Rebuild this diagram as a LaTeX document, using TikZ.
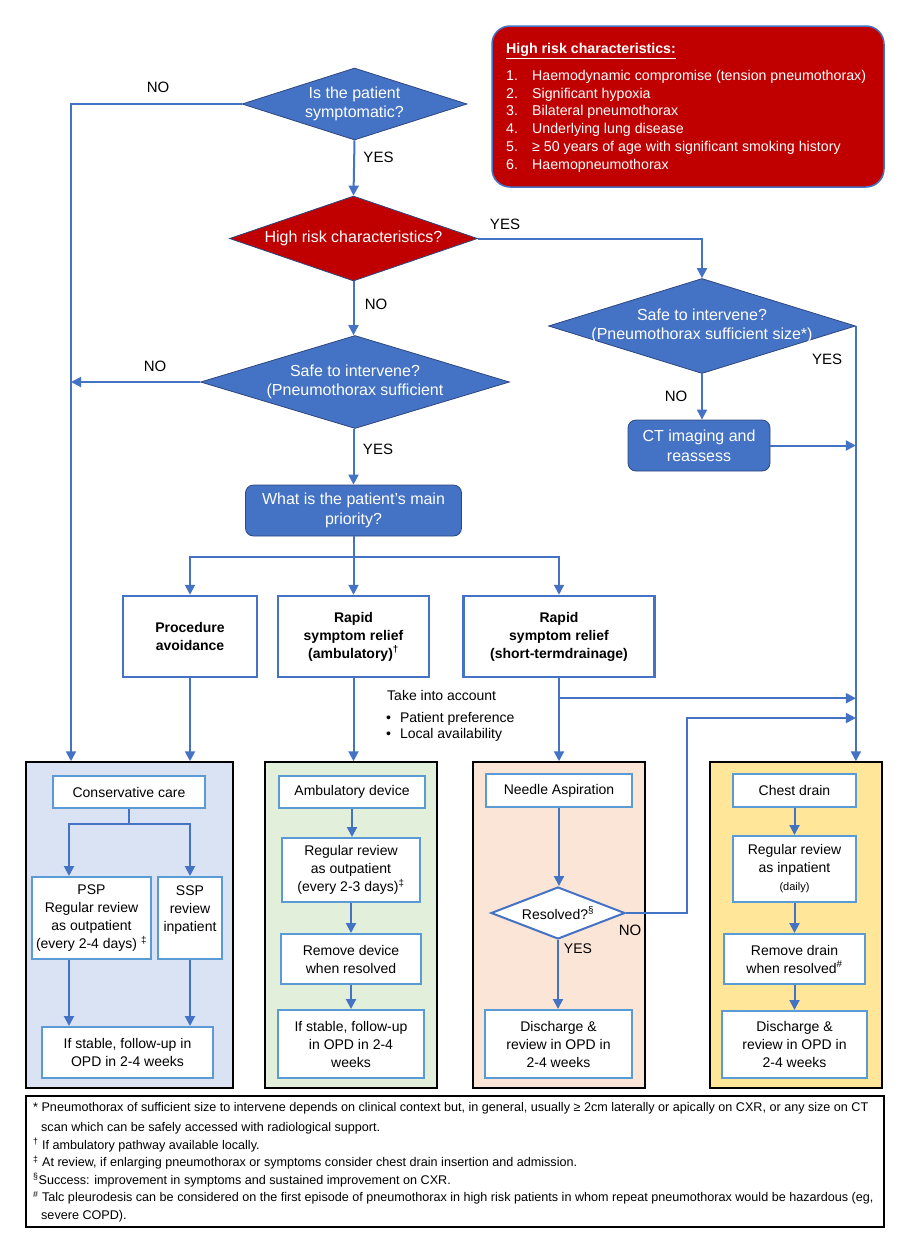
\documentclass[tikz,border=0pt]{standalone}
\usepackage{fontspec}
\setmainfont{Liberation Sans}
\usetikzlibrary{shapes.geometric,arrows.meta}

\definecolor{fillblue}{HTML}{4472C4}
\definecolor{edgenavy}{HTML}{2F477F}
\definecolor{riskred}{HTML}{C00000}
\definecolor{stepblue}{HTML}{5B9BD5}
\definecolor{consfill}{HTML}{DAE3F3}
\definecolor{ambfill}{HTML}{E2EFDA}
\definecolor{needfill}{HTML}{FBE5D6}
\definecolor{chestfill}{HTML}{FFE699}

\tikzset{
	conn/.style={draw=fillblue,line width=2pt},
	arr/.style={conn,-{Triangle[length=10pt,width=10pt]}},
	decision/.style={diamond,draw=edgenavy,line width=0.8pt,fill=fillblue,inner sep=0pt},
	dtext/.style={text=white,align=center,inner sep=0pt,font=\fontsize{16}{19}\selectfont},
	bluebox/.style={rectangle,rounded corners=8pt,draw=edgenavy,line width=0.8pt,fill=fillblue,text=white,align=center,inner sep=0pt,font=\fontsize{16}{20}\selectfont},
	choice/.style={rectangle,draw=fillblue,line width=2.5pt,fill=white,align=center,inner sep=0pt,font=\bfseries\fontsize{14}{18}\selectfont},
	panel/.style={rectangle,draw=black,line width=1.5pt,inner sep=0pt},
	stepbox/.style={rectangle,draw=stepblue,line width=2pt,fill=white,align=center,inner sep=0pt,font=\fontsize{14}{18}\selectfont},
	yesno/.style={inner sep=0pt,font=\fontsize{15}{18}\selectfont},
	yesnosmall/.style={inner sep=0pt,font=\fontsize{14}{18}\selectfont}
}

\begin{document}
\begin{tikzpicture}[x=1pt,y=-1pt]
	\useasboundingbox (0,0) rectangle (910,1254);

	% high risk list
	\node[rectangle,rounded corners=18pt,draw=fillblue,line width=1.5pt,fill=riskred,minimum width=392pt,minimum height=161pt] (riskinfo) at (688,106.5) {};
	\node[anchor=north west,align=left,text=white,inner sep=0pt,font=\fontsize{14.2}{17.8}\selectfont] (risklist) at (506,43) {\underline{\textbf{High risk characteristics:}}\\[9pt]
		\makebox[26pt][l]{1.}Haemodynamic compromise (tension pneumothorax)\\
		\makebox[26pt][l]{2.}Significant hypoxia\\
		\makebox[26pt][l]{3.}Bilateral pneumothorax\\
		\makebox[26pt][l]{4.}Underlying lung disease\\
		\makebox[26pt][l]{5.}≥ 50 years of age with significant smoking history\\
		\makebox[26pt][l]{6.}Haemopneumothorax};

	% decisions
	\node[decision,minimum width=225pt,minimum height=72pt,label={[dtext]center:{Is the patient\\symptomatic?}}] (symp) at (354.5,104) {};
	\node[decision,fill=riskred,minimum width=248pt,minimum height=85pt,label={[dtext]center:{High risk characteristics?}}] (risk) at (353.5,238.5) {};
	\node[decision,minimum width=307pt,minimum height=95pt,label={[dtext]center:{Safe to intervene?\\(Pneumothorax sufficient size*)}}] (safeA) at (702,326) {};
	\node[decision,minimum width=309pt,minimum height=93pt,label={[dtext]center:{Safe to intervene?\\(Pneumothorax sufficient}}] (safeB) at (355,382) {};
	\node[bluebox,minimum width=142pt,minimum height=51pt] (ct) at (699,445.5) {CT imaging and\\reassess};
	\node[bluebox,minimum width=216pt,minimum height=51pt] (prio) at (353.5,510.5) {What is the patient’s main\\priority?};

	% priorities
	\node[choice,minimum width=134pt,minimum height=81pt] (proc) at (190,636.5) {Procedure\\avoidance};
	\node[choice,minimum width=151pt,minimum height=81pt] (amb) at (353.5,636.5) {Rapid\\symptom relief\\(ambulatory)\textsuperscript{†}};
	\node[choice,minimum width=191pt,minimum height=81pt] (stdr) at (559,636.5) {Rapid\\symptom relief\\(short-termdrainage)};

	\node[anchor=west,inner sep=0pt,font=\fontsize{14}{16}\selectfont] (account) at (387,695) {Take into account};
	\node[anchor=north west,align=left,inner sep=0pt,font=\fontsize{14}{16}\selectfont] (accountlist) at (386,712) {•\hspace{9pt}Patient preference\\•\hspace{9pt}Local availability};

	% panels
	\node[panel,fill=consfill,minimum width=207pt,minimum height=326pt] (consP) at (129.5,925) {};
	\node[panel,fill=ambfill,minimum width=172pt,minimum height=326pt] (ambP) at (351,925) {};
	\node[panel,fill=needfill,minimum width=172pt,minimum height=326pt] (needP) at (559,925) {};
	\node[panel,fill=chestfill,minimum width=172pt,minimum height=326pt] (chestP) at (796,925) {};

	% conservative
	\node[stepbox,minimum width=152pt,minimum height=32pt] (cons) at (129,792) {Conservative care};
	\node[stepbox,minimum width=119pt,minimum height=82pt] (psp) at (91.5,918) {PSP\\Regular review\\as outpatient\\(every 2-4 days) \textsuperscript{‡}};
	\node[stepbox,minimum width=64pt,minimum height=82pt] (ssp) at (190,918) {SSP\\review\\inpatient\\\mbox{}};
	\node[stepbox,minimum width=171pt,minimum height=51pt] (consst) at (127.5,1052.5) {If stable, follow-up in\\OPD in 2-4 weeks};

	% ambulatory
	\node[stepbox,minimum width=146pt,minimum height=32pt] (ambdev) at (352,792) {Ambulatory device};
	\node[stepbox,minimum width=138pt,minimum height=64pt] (ambrev) at (351,870) {Regular review\\as outpatient\\(every 2-3 days)\textsuperscript{‡}};
	\node[stepbox,minimum width=140pt,minimum height=50pt] (ambrem) at (351,959) {Remove device\\when resolved};
	\node[stepbox,minimum width=146pt,minimum height=68pt] (ambst) at (351,1044) {If stable, follow-up\\in OPD in 2-4\\weeks};

	% needle
	\node[stepbox,minimum width=146pt,minimum height=33pt] (needle) at (559,790.5) {Needle Aspiration};
	\node[diamond,draw=fillblue,line width=2pt,fill=white,inner sep=0pt,minimum width=134pt,minimum height=52pt,label={[inner sep=0pt,font=\fontsize{14}{18}\selectfont]center:{Resolved?\textsuperscript{§}}}] (resolved) at (558,913) {};
	\node[stepbox,minimum width=147pt,minimum height=68pt] (needdis) at (558.5,1044) {Discharge \&\\review in OPD in\\2-4 weeks};

	% chest drain
	\node[stepbox,minimum width=123pt,minimum height=33pt] (chest) at (794.5,790.5) {Chest drain};
	\node[stepbox,minimum width=123pt,minimum height=66pt] (chestrev) at (794.5,869) {Regular review\\as inpatient\\{\fontsize{11}{14}\selectfont(daily)}};
	\node[stepbox,minimum width=141pt,minimum height=50pt] (chestrem) at (794.5,959) {Remove drain\\when resolved\textsuperscript{\#}};
	\node[stepbox,minimum width=145pt,minimum height=67pt] (chestdis) at (794.5,1044.5) {Discharge \&\\review in OPD in\\2-4 weeks};

	% yes / no labels
	\node[yesno] (no1) at (158,87) {NO};
	\node[yesno] (yes1) at (378.5,157) {YES};
	\node[yesno] (yes2) at (505,224) {YES};
	\node[yesno] (no2) at (376,304) {NO};
	\node[yesno] (no3) at (155,366) {NO};
	\node[yesno] (yes3) at (827,359) {YES};
	\node[yesno] (no4) at (676,396) {NO};
	\node[yesno] (yes4) at (378,449) {YES};
	\node[yesno] (no5) at (630,930) {NO};
	\node[yesnosmall] (yes5) at (578,949) {YES};

	% connectors
	\coordinate (lrail) at (71,104);
	\draw[arr] (symp.west) -- (lrail) -- (lrail |- consP.north);
	\draw[arr] (symp.south) -- (risk.north);
	\draw[arr] (risk.east) -| (safeA.north);
	\draw[arr] (risk.south) -- (risk.south |- safeB.north);
	\draw[arr] (safeB.west) -- (safeB.west -| lrail);
	\draw[arr] (safeA.east) -- (safeA.east |- chestP.north);
	\draw[arr] (safeA.south) -- (safeA.south |- ct.north);
	\draw[arr] (ct.east) -- (ct.east -| safeA.east);
	\draw[arr] (risk.south |- safeB.south) -- (prio.north);
	\draw[arr] (prio.south) -- ++(0,21) -| (proc.north);
	\draw[arr] (prio.south) -- ++(0,21) -| (stdr.north);
	\draw[arr] (prio.south) -- (prio.south |- amb.north);
	\draw[arr] (proc.south) -- (proc.south |- consP.north);
	\draw[arr] (amb.south) -- (amb.south |- ambP.north);
	\draw[arr] (stdr.south) -- (stdr.south |- needP.north);
	\path (stdr.south) ++(0,20) coordinate (tap);
	\draw[arr] (tap) -- (tap -| safeA.east);
	\coordinate (back) at (687,718);
	\draw[arr] (resolved.east) -| (back) -- (back -| safeA.east);

	\draw[arr] (cons.south) -- ++(0,15) -| ([xshift=-22.5pt]psp.north);
	\draw[arr] (cons.south) -- ++(0,15) -| (ssp.north);
	\draw[arr] ([xshift=-22.5pt]psp.south) -- ([xshift=-22.5pt]psp.south |- consst.north);
	\draw[arr] (ssp.south) -- (ssp.south |- consst.north);
	\draw[arr] (ambdev.south) -- (ambdev.south |- ambrev.north);
	\draw[arr] (ambrev.south) -- (ambrev.south |- ambrem.north);
	\draw[arr] (ambrem.south) -- (ambrem.south |- ambst.north);
	\draw[arr] (needle.south) -- (needle.south |- resolved.north);
	\draw[arr] (resolved.south) -- (resolved.south |- needdis.north);
	\draw[arr] (chest.south) -- (chest.south |- chestrev.north);
	\draw[arr] (chestrev.south) -- (chestrev.south |- chestrem.north);
	\draw[arr] (chestrem.south) -- (chestrem.south |- chestdis.north);

	% footnotes
	\node[panel,fill=white,minimum width=858pt,minimum height=131pt] (notes) at (455,1161.5) {};
	\node[anchor=north west,align=left,inner sep=0pt,font=\fontsize{12.6}{17.6}\selectfont] (notetext) at (33,1102) {* Pneumothorax of sufficient size to intervene depends on clinical context but, in general, usually ≥ 2cm laterally or apically on CXR, or any size on CT\\[2.5pt]
		\hspace*{8pt}scan which can be safely accessed with radiological support.\\
		\textsuperscript{†} If ambulatory pathway available locally.\\
		\textsuperscript{‡} At review, if enlarging pneumothorax or symptoms consider chest drain insertion and admission.\\
		\textsuperscript{§}Success: improvement in symptoms and sustained improvement on CXR.\\
		\textsuperscript{\#} Talc pleurodesis can be considered on the first episode of pneumothorax in high risk patients in whom repeat pneumothorax would be hazardous (eg,\\
		\hspace*{8pt}severe COPD).};
\end{tikzpicture}
\end{document}
